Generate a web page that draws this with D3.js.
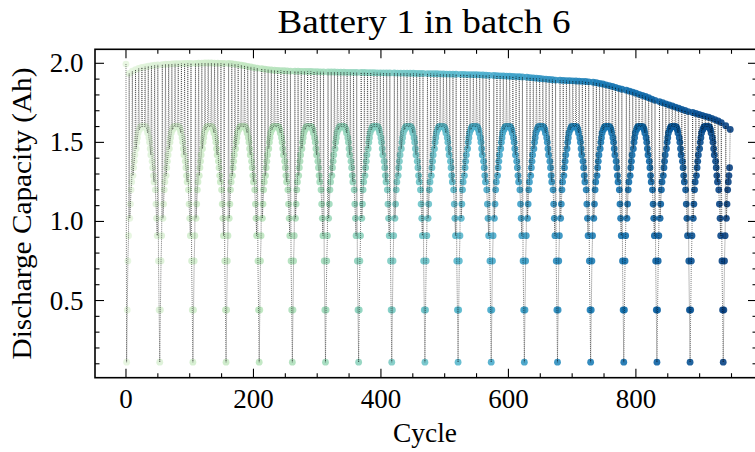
<!DOCTYPE html>
<html><head><meta charset="utf-8">
<script src="https://cdn.jsdelivr.net/npm/d3@7"></script>
<style>body{margin:0;background:#fff} svg{display:block}</style>
</head><body>
<svg id="chart" width="755" height="452"></svg>
<script>
// Discharge capacity (Ah) of each cycle within one simulated eclipse season
const seasonProfile = [0.11,0.44,0.75,0.91,1.02,1.11,1.20,1.25,1.29,1.34,1.38,1.42,1.46,1.50,1.53,1.56,1.58,1.59,1.60,1.60,1.60,
  1.60,1.60,1.60,1.60,1.59,1.58,1.56,1.53,1.50,1.46,1.42,1.38,1.34,1.29,1.25,1.20,1.11,1.02,0.91,0.75,0.44];
const lastSeasonProfile = [0.11,0.44,0.75,0.91,1.02,1.11,1.20,1.25,1.29,1.34];
// Full capacity check cycles (Ah), in order
const checkCapacity = [1.995,
  1.936,1.950,1.960,1.968,1.974,1.978,1.982,1.985,1.988,1.990,
  1.992,1.994,1.995,1.996,1.997,1.998,1.998,1.999,1.999,2.000,
  2.000,2.001,2.001,2.002,2.002,2.002,2.001,2.001,2.000,2.000,
  1.999,1.997,1.995,1.992,1.989,1.985,1.981,1.977,1.973,1.970,
  1.966,1.963,1.960,1.958,1.956,1.955,1.954,1.953,1.952,1.951,
  1.950,1.950,1.949,1.949,1.948,1.948,1.947,1.947,1.946,1.946,
  1.945,1.945,1.945,1.944,1.944,1.944,1.943,1.943,1.943,1.942,
  1.942,1.942,1.941,1.941,1.941,1.940,1.940,1.940,1.939,1.939,
  1.939,1.938,1.938,1.938,1.937,1.937,1.937,1.936,1.936,1.936,
  1.935,1.935,1.934,1.934,1.933,1.933,1.932,1.932,1.931,1.931,
  1.930,1.930,1.929,1.929,1.928,1.928,1.927,1.926,1.925,1.924,
  1.923,1.922,1.921,1.920,1.919,1.918,1.917,1.916,1.915,1.914,
  1.912,1.910,1.908,1.906,1.904,1.902,1.900,1.898,1.896,1.894,
  1.893,1.892,1.891,1.890,1.889,1.888,1.887,1.886,1.885,1.883,
  1.880,1.877,1.873,1.869,1.864,1.859,1.854,1.848,1.842,1.836,
  1.830,1.824,1.818,1.811,1.804,1.797,1.790,1.782,1.774,1.766,
  1.758,1.751,1.744,1.737,1.730,1.723,1.716,1.709,1.702,1.695,
  1.689,1.683,1.677,1.671,1.665,1.659,1.652,1.644,1.635,1.625,
  1.605,1.582];
const seasonCount = 18;
const xTicks = [0,200,400,600,800];
const yTicks = [0.5,1.0,1.5,2.0];
const yTickLabels = ["0.5","1.0","1.5","2.0"];
const titleText = "Battery 1 in batch 6";
const xLabel = "Cycle";
const yLabel = "Discharge Capacity (Ah)";

// Build the cycle-ordered record: a capacity check after every 4 season cycles
const records = [];
let cyc = 0, ci = 0;
records.push({cycle: cyc++, cap: checkCapacity[ci++]});
function addSeason(profile){
  profile.forEach((v,i)=>{
    records.push({cycle: cyc++, cap: v});
    if ((i+1)%4===0 && ci < checkCapacity.length-1) records.push({cycle: cyc++, cap: checkCapacity[ci++]});
  });
}
for (let s=0;s<seasonCount;s++) addSeason(seasonProfile);
addSeason(lastSeasonProfile);
while (ci < checkCapacity.length) records.push({cycle: cyc++, cap: checkCapacity[ci++]});

const svg = d3.select("#chart");
const L=95, R=757, T=49.3, B=377.7;
const x = d3.scaleLinear().domain([-48.6, 990]).range([L, R]);
const y = d3.scaleLinear().domain([0.012, 2.0885]).range([B, T]);
const maxC = d3.max(records, d=>d.cycle);
const color = c => d3.interpolateGnBu(0.1 + 0.9*c/maxC);
const font = "'Liberation Serif','Times New Roman',serif";

svg.append("clipPath").attr("id","clip").append("rect")
  .attr("x",L).attr("y",T).attr("width",R-L).attr("height",B-T);
const plot = svg.append("g").attr("clip-path","url(#clip)");

plot.selectAll("circle").data(records).join("circle")
  .attr("cx",d=>x(d.cycle)).attr("cy",d=>y(d.cap)).attr("r",3.4)
  .attr("fill",d=>color(d.cycle)).attr("fill-opacity",0.9);

plot.append("path").datum(records)
  .attr("d", d3.line().x(d=>x(d.cycle)).y(d=>y(d.cap)))
  .attr("fill","none").attr("stroke","#000").attr("stroke-width",0.75)
  .attr("stroke-dasharray","1,1").attr("stroke-opacity",0.7);

// axes (ticks inward, mirrored)
const majorLen=9, minorLen=4.5, sw=1.6;
const xMinor = d3.range(0, 1000, 50).filter(v=>v<=990&&v%200!==0);
const yMinor = d3.range(1, 21).map(v=>v/10).filter(v=>Math.round(v*10)%5!==0);
const ax = svg.append("g").attr("stroke","#000").attr("stroke-width",1.1);
function xt(vals,len){ vals.forEach(v=>{ const px=x(v);
  ax.append("line").attr("x1",px).attr("x2",px).attr("y1",B).attr("y2",B-len);
  ax.append("line").attr("x1",px).attr("x2",px).attr("y1",T).attr("y2",T+len);});}
function yt(vals,len){ vals.forEach(v=>{ const py=y(v);
  ax.append("line").attr("y1",py).attr("y2",py).attr("x1",L).attr("x2",L+len);
  ax.append("line").attr("y1",py).attr("y2",py).attr("x1",R).attr("x2",R-len);});}
xt(xTicks,majorLen); xt(xMinor,minorLen); yt(yTicks,majorLen); yt(yMinor,minorLen);
svg.append("rect").attr("x",L).attr("y",T).attr("width",R-L).attr("height",B-T)
  .attr("fill","none").attr("stroke","#000").attr("stroke-width",sw);

svg.append("g").selectAll("text").data(xTicks).join("text")
  .attr("x",d=>x(d)).attr("y",408).attr("text-anchor","middle")
  .attr("font-family",font).attr("font-size",27).text(d=>d);
svg.append("g").selectAll("text").data(yTicks).join("text")
  .attr("x",83.5).attr("y",d=>y(d)+9).attr("text-anchor","end")
  .attr("font-family",font).attr("font-size",27).text((d,i)=>yTickLabels[i]);

svg.append("text").attr("x",(L+R)/2-2).attr("y",33).attr("text-anchor","middle")
  .attr("font-family",font).attr("font-size",33).attr("textLength",293).attr("lengthAdjust","spacingAndGlyphs").text(titleText);
svg.append("text").attr("x",(L+R)/2-1).attr("y",442).attr("text-anchor","middle")
  .attr("font-family",font).attr("font-size",27).attr("textLength",64).attr("lengthAdjust","spacingAndGlyphs").text(xLabel);
svg.append("text").attr("transform",`translate(31,${(T+B)/2}) rotate(-90)`).attr("text-anchor","middle")
  .attr("font-family",font).attr("font-size",27).attr("textLength",292).attr("lengthAdjust","spacingAndGlyphs").text(yLabel);
</script>
</body></html>
